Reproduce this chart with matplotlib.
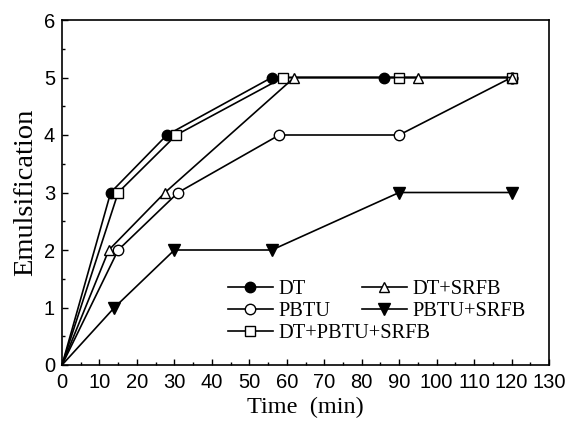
import matplotlib
matplotlib.use("Agg")
import matplotlib.pyplot as plt
from matplotlib.ticker import MultipleLocator

# Data
dt_x = [0, 13, 28, 56, 86, 120]
dt_y = [0, 3, 4, 5, 5, 5]
pbtu_x = [0, 15, 31, 58, 90, 120]
pbtu_y = [0, 2, 3, 4, 4, 5]
mix_x = [0, 15, 30.5, 59, 90, 120]
mix_y = [0, 3, 4, 5, 5, 5]
dts_x = [0, 12.5, 27.5, 62, 95, 120]
dts_y = [0, 2, 3, 5, 5, 5]
pbs_x = [0, 14, 30, 56, 90, 120]
pbs_y = [0, 1, 2, 2, 3, 3]

fig = plt.figure(figsize=(5.69, 4.26), dpi=100)
ax = fig.add_axes([62/569, 61/426, (549-62)/569, (365-20)/426])

lw = 1.2
ms = 7.5
me = list(range(1, 6))
common = dict(color='black', lw=lw, markersize=ms, markeredgewidth=1.0, clip_on=False, markevery=me)
h_dt, = ax.plot(dt_x, dt_y, marker='o', markerfacecolor='black', label='DT', **common)
h_pb, = ax.plot(pbtu_x, pbtu_y, marker='o', markerfacecolor='white', label='PBTU', **common)
h_mix, = ax.plot(mix_x, mix_y, marker='s', markerfacecolor='white', label='DT+PBTU+SRFB', **common)
h_dts, = ax.plot(dts_x, dts_y, marker='^', markerfacecolor='white', label='DT+SRFB', **common)
h_pbs, = ax.plot(pbs_x, pbs_y, marker='v', markerfacecolor='black', label='PBTU+SRFB', markersize=ms + 1.5,
                 color='black', lw=lw, clip_on=False, markevery=me)

ax.set_xlim(0, 130)
ax.set_ylim(0, 6)
ax.xaxis.set_major_locator(MultipleLocator(10))
ax.xaxis.set_minor_locator(MultipleLocator(5))
ax.yaxis.set_major_locator(MultipleLocator(1))
ax.yaxis.set_minor_locator(MultipleLocator(0.5))
ax.tick_params(which='both', direction='in', top=False, right=False, width=1.0)
ax.tick_params(which='major', length=4.5, labelsize=14.5)
ax.tick_params(axis='x', which='major', pad=6)
ax.tick_params(axis='y', which='major', pad=5)
ax.tick_params(which='minor', length=2.5)
for lab in ax.get_xticklabels() + ax.get_yticklabels():
    lab.set_family('Liberation Sans')
for sp in ax.spines.values():
    sp.set_linewidth(1.2)

serif = 'Liberation Serif'
ax.set_xlabel('Time  (min)', fontsize=17.5, family=serif, labelpad=3)
ax.set_ylabel('Emulsification', fontsize=20.5, family=serif, labelpad=4)

legkw = dict(frameon=False, loc='upper left', bbox_transform=fig.transFigure,
             borderpad=0, borderaxespad=0, handlelength=2.2, handletextpad=0.25,
             labelspacing=0.12, prop={'family': serif, 'size': 14.7})
leg1 = ax.legend(handles=[h_dt, h_pb, h_mix], bbox_to_anchor=(228/569, 1 - 280/426), **legkw)
ax.add_artist(leg1)
leg2 = ax.legend(handles=[h_dts, h_pbs], bbox_to_anchor=(362/569, 1 - 280/426), **legkw)

fig.savefig('out.png', dpi=100)
